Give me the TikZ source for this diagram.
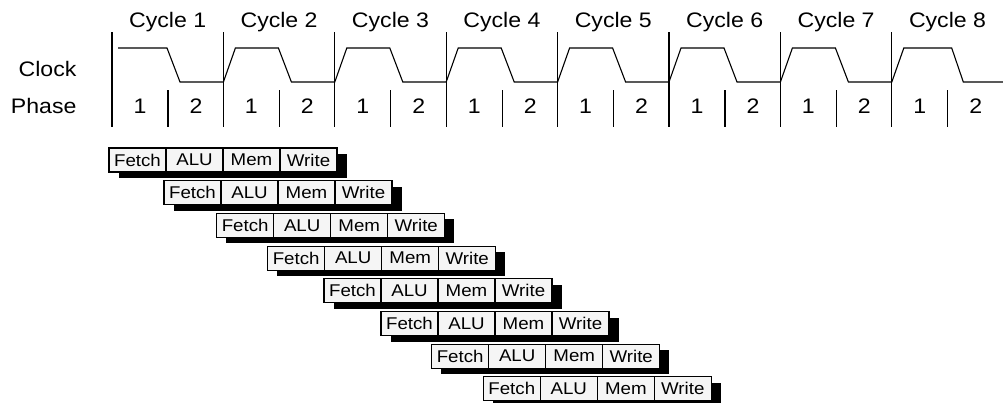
\documentclass[tikz,border=0pt]{standalone}
\usepackage{fontspec}
\setmainfont{Liberation Sans}[FakeStretch=1.1]
\definecolor{boxgray}{RGB}{245,245,245}
\begin{document}
\begin{tikzpicture}[x=1pt,y=-1pt, line width=1.1pt,
  hdr/.style={font=\fontsize{21}{24}\selectfont, inner sep=0pt},
  stagebox/.style={draw, fill=boxgray, minimum width=57pt, minimum height=24pt,
    inner sep=0pt, outer sep=0pt, anchor=north west, font=\fontsize{17}{19}\selectfont}]
\useasboundingbox (0,0) rectangle (1003,402);
% labels
\node[hdr, anchor=base east] (clk) at (77,76) {Clock};
\node[hdr, anchor=base east] (phs) at (77,113) {Phase};
% cycles
\foreach \b [count=\c] in {112,223.4,334.8,446.2,557.6,669,780.4,891.8} {
  \node[hdr, anchor=base] (cyc\c) at (\b+55.7,27) {Cycle \c};
  \node[hdr, anchor=base] (pa\c) at (\b+28,113) {1};
  \node[hdr, anchor=base] (pb\c) at (\b+84,113) {2};
  \draw (\b,32) -- (\b,127);
  \draw (\b+56,90) -- (\b+56,127);
}
% clock waveform
\draw[line join=miter] (118,48) -- (167,48) -- (180,82)
  foreach \b in {223.4,334.8,446.2,557.6,669,780.4} { -- (\b,82) -- (\b+12,48) -- (\b+55,48) -- (\b+68,82) }
  -- (891.8,82) -- (903.8,48) -- (951.7,48) -- (963.3,82) -- (1003,82);
% pipeline
\foreach \L [count=\i from 0] in {109,164,216.7,267.7,324,381,431.7,483.3} {
  \pgfmathsetmacro\T{148+32.7*\i}
  \fill (\L+9.5,\T+6) rectangle (\L+237.5,\T+30);
  \node[stagebox] (f\i) at (\L,\T) {Fetch};
  \node[stagebox] (a\i) at (f\i.north east) {ALU};
  \node[stagebox] (m\i) at (a\i.north east) {Mem};
  \node[stagebox] (w\i) at (m\i.north east) {Write};
}
\end{tikzpicture}
\end{document}
